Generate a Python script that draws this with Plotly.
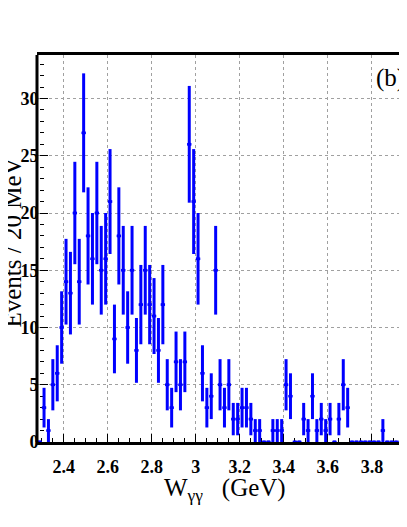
import numpy as np
import plotly.graph_objects as go

# bin centres (GeV), 20 MeV bins
w_first = 2.29
bin_width = 0.02
counts = [0, 3, 1, 5, 6, 10, 14, 13, 20, 14, 27, 18, 16, 20, 15, 16, 21, 9, 18, 15, 10,
          15, 8, 12, 15, 12, 11, 8, 12, 5, 3, 7, 5, 7, 26, 21, 16, 6, 3, 4, 15,
          5, 3, 5, 2, 2, 3, 3, 2, 1, 1, 0, 0, 1, 1, 1, 5, 4, 0, 0, 2,
          1, 4, 1, 2, 1, 2, 0, 2, 5, 3, 0, 0, 0, 0, 0, 0, 0, 1, 0, 0,
          0, 0, 0, 0]
x_ticks = [2.4, 2.6, 2.8, 3.0, 3.2, 3.4, 3.6, 3.8]
x_ticklabels = ["2.4", "2.6", "2.8", "3", "3.2", "3.4", "3.6", "3.8"]
y_ticks = [0, 5, 10, 15, 20, 25, 30]

w = [round(w_first + i * bin_width, 3) for i in range(len(counts))]
err = [float(np.sqrt(c)) for c in counts]

BLUE = "#0000ff"
SERIF = "Liberation Serif"

fig = go.Figure()
fig.add_trace(go.Scatter(
    x=w, y=counts, mode="markers",
    marker=dict(symbol="square", size=3, color=BLUE),
    error_y=dict(type="data", array=err, color=BLUE, thickness=3, width=0),
    error_x=dict(type="constant", value=bin_width / 2, color=BLUE, thickness=2.5, width=0),
    showlegend=False,
))

axis_common = dict(
    showgrid=True, gridcolor="#a0a0a0", gridwidth=1, griddash="dot",
    ticks="inside", ticklen=8, tickwidth=1, tickcolor="black",
    tickfont=dict(family=SERIF, size=18, color="black", weight="bold"),
    zeroline=False, layer="below traces",
)

# the page is shifted by the body margin (8 px) and the right side runs off the window
fig.update_xaxes(
    **axis_common, range=[2.278, 3.996], tickvals=x_ticks, ticktext=x_ticklabels,
    showline=True, linecolor="black", linewidth=3, mirror=True, ticklabelstandoff=6,
    minor=dict(dtick=0.05, tick0=2.0, ticks="inside", ticklen=4, tickcolor="black", showgrid=False),
)
# y axis nudged a few px right so its labels sit close to the frame, frame line drawn as a shape
fig.update_yaxes(
    **axis_common, range=[0, 33.8], tickvals=y_ticks, showline=False,
    anchor="free", position=0.004, ticklabelstandoff=0,
    minor=dict(dtick=1, ticks="inside", ticklen=4, tickcolor="black", showgrid=False),
)
fig.add_shape(type="line", xref="paper", yref="paper", x0=0, x1=0, y0=0, y1=1,
              line=dict(color="black", width=3))

fig.update_layout(
    width=407, height=527,
    margin=dict(l=29, r=0, t=47, b=93),
    paper_bgcolor="white", plot_bgcolor="white",
    font=dict(family=SERIF, color="black"),
    annotations=[
        dict(text="Events / 20 MeV", textangle=-90, xref="paper", yref="paper",
             x=0, y=0.514, xanchor="right", yanchor="middle", xshift=-9,
             showarrow=False, font=dict(family=SERIF, size=25, color="black")),
        dict(text="W<sub>γγ</sub>&nbsp;&nbsp;&nbsp;(GeV)", xref="paper", yref="paper",
             x=0.497, y=0, xanchor="center", yanchor="top", yshift=-30,
             showarrow=False, font=dict(family=SERIF, size=25, color="black")),
        dict(text="(b)", xref="paper", yref="paper", x=0.934, y=0.94,
             xanchor="center", yanchor="middle",
             showarrow=False, font=dict(family=SERIF, size=25, color="black")),
    ],
)

fig.write_html("out.html")
